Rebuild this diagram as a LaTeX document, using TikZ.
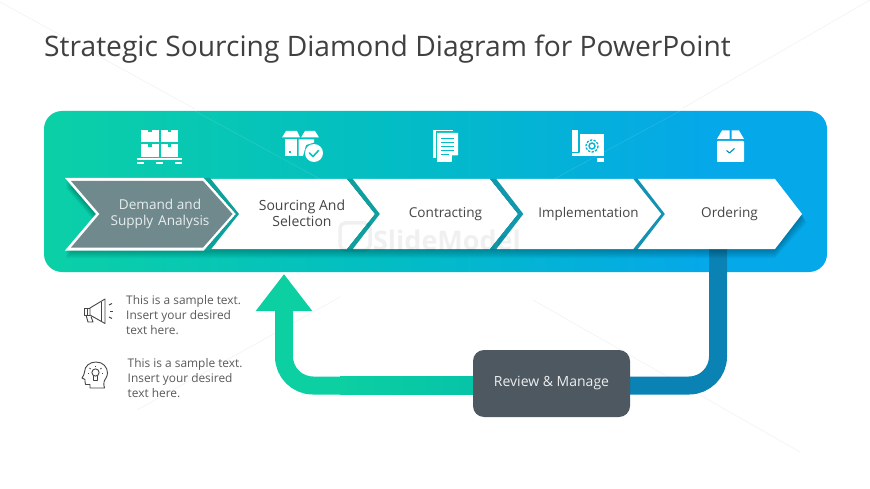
\documentclass[tikz,border=0pt]{standalone}
\usepackage{fontspec}
\setmainfont{Open Sans}
\usetikzlibrary{arrows.meta,calc}
\definecolor{pA}{HTML}{0BD0A6}
\definecolor{pB}{HTML}{03BDC4}
\definecolor{pC}{HTML}{05A8E8}
\definecolor{titlec}{HTML}{404040}
\definecolor{bodyc}{HTML}{5A5A5A}
\definecolor{labelc}{HTML}{454545}
\definecolor{greyc}{HTML}{6F898D}
\definecolor{slatec}{HTML}{4D5860}
\definecolor{retgreen}{HTML}{0CCFA2}
\definecolor{retgreenb}{HTML}{06C3A8}
\definecolor{retblue}{HTML}{0A82B4}
\definecolor{iconline}{HTML}{454545}
\definecolor{stripeA}{HTML}{10A09A}
\definecolor{stripeB}{HTML}{109E9E}
\definecolor{stripeC}{HTML}{1298AC}
\definecolor{stripeD}{HTML}{1392B4}
\pgfdeclarelayer{bg}
\pgfsetlayers{bg,main}
\pgfdeclarehorizontalshading{panelgrad}{100bp}{color(0bp)=(pA);color(25bp)=(pA);color(47bp)=(pB);color(67bp)=(pC);color(100bp)=(pC)}
\tikzset{
  x=1pt,y=-1pt,
  chevtext/.style={align=center,font=\fontsize{13.6}{16}\selectfont,text=labelc,inner sep=0pt},
  sampletext/.style={align=left,anchor=north west,font=\fontsize{11.9}{15}\selectfont,text=bodyc,inner sep=0pt},
  flow/.style={line width=18pt,rounded corners=29pt},
  outline/.style={draw=iconline,line width=.9pt,fill=none,line join=round},
  faint/.style={draw=black,opacity=.05,line width=.6pt},
}
\newcommand{\chevbody}[2]{%
  \fill[white] (#1,179)--++(137,0)--++(28,35)--++(-28,35)--++(-137,0)--++(27,-35)--cycle;
  \fill[#2] (#1+137,179)--++(28,35)--++(-28,35)--++(6,0)--++(27.5,-35)--++(-27.5,-35)--cycle;}
\begin{document}
\begin{tikzpicture}
\useasboundingbox (0,0) rectangle (870,489);
% review box and connector end points
\node[fill=slatec,rounded corners=11pt,minimum width=157pt,minimum height=67pt,inner sep=0pt,text=white!90!slatec,font=\fontsize{14}{16}\selectfont] (review) at (551.5,383.5) {Review \& Manage};
\coordinate (feed) at (718,249);
\coordinate (backtip) at (284,274);
\begin{pgfonlayer}{bg}
\fill[white] (0,0) rectangle (870,489);
\draw[faint] (533,300)--(800,452);
\draw[faint] (340,297)--(137,410);
\draw[faint] (0,2)--(195,109);
\draw[faint] (870,0)--(683,108);
\shade[shading=panelgrad,rounded corners=18pt] (44,111) rectangle (827,272);
\draw[draw=white,opacity=.12,line width=.6pt] (195,111)--(340,190);
\draw[draw=white,opacity=.12,line width=.6pt] (530,192)--(680,111);
\draw[flow,retblue] ($(review.east)+(-2,2)$) -| (feed);
\draw[flow,retgreen,-{Triangle[length=37pt,width=54pt]}] ($(review.west)+(2,2)$) -| (backtip);
\shade[left color=retgreen,right color=retgreenb] (340,376.5) rectangle (475,394.5);
\end{pgfonlayer}
\node[inner sep=0pt,anchor=base west,text=titlec,font=\fontsize{28.2}{32}\selectfont] (title) at (44,56.5) {Strategic Sourcing Diamond Diagram for PowerPoint};
% chevron shadow
\foreach \d in {1,2,...,9}{
  \fill[black,opacity=.03] (66,179+\d)--(775,179+\d)--(802+\d*.5,214+\d)--(775,249+\d)--(66,249+\d)--(96,214+\d)--cycle;
}
% chevrons
\chevbody{210}{stripeB}
\chevbody{353}{stripeC}
\chevbody{496.5}{stripeD}
\fill[white] (638,179)--(775,179)--(802,214)--(775,249)--(638,249)--(665,214)--cycle;
% first chevron
\fill[white] (65,178)--(204,178)--(236,214)--(204,250.5)--(65,250.5)--(96,214)--cycle;
\fill[greyc] (71,181)--(203,181)--(232.5,214)--(203,247.5)--(71,247.5)--(99.5,214)--cycle;
\fill[stripeA] (204,178)--(236,214)--(204,250.5)--(210,250.5)--(239,214)--(210,178)--cycle;
% watermark
\node[opacity=.06,text=black,inner sep=0pt,font=\bfseries\fontsize{27}{27}\selectfont] (mark) at (447,240) {SlideModel};
\draw[opacity=.06,draw=black,line width=3.5pt,rounded corners=5pt] (340,223) rectangle (370,250);
% chevron labels
\node[chevtext,text=white!85!greyc] (c1) at (160,214) {Demand and\\Supply\hspace{.1em} Analysis};
\node[chevtext,font=\fontsize{14}{16}\selectfont] (c2) at (302,213.5) {Sourcing And\\Selection};
\node[chevtext] (c3) at (445.5,214) {Contracting};
\node[chevtext,font=\fontsize{13.4}{16}\selectfont] (c4) at (588.5,214) {Implementation};
\node[chevtext] (c5) at (729.5,214) {Ordering};
% sample text
\node[sampletext] (s1) at (126,295.5) {This is a sample text.\\Insert your desired\\text here.};
\node[sampletext] (s2) at (127.5,358) {This is a sample text.\\Insert your desired\\text here.};
% icon 1: pallet
\foreach \px/\py in {141/130,160.5/130,141/144.5,160.5/144.5}{
  \fill[white] (\px,\py) rectangle ++(17.5,12.5);
  \fill[pA!90!pB] (\px+7,\py) rectangle ++(3.5,2.5);
}
\fill[white] (137,158) rectangle (182,160);
\fill[white] (137,162) rectangle (144,164);
\fill[white] (156,162) rectangle (163,164);
\fill[white] (175,162) rectangle (182,164);
% icon 2: open box with check
\fill[white] (286,131)--(297,131)--(300,137.5)--(282,137.5)--cycle;
\fill[white] (305,131)--(315,131)--(319,137.5)--(301,137.5)--cycle;
\fill[white] (285,139.5) rectangle (296.5,156);
\fill[white] (298.5,139.5)--(314,139.5)--(314,142.5)--(306,145)--(303,156)--(298.5,156)--cycle;
\fill[pA!50!pB] (289,151) rectangle (291,153);
\fill[white] (314,153) circle (9);
\draw[pA!45!pB,line width=1.6pt,line cap=round,line join=round] (309.5,153)--(313,156.5)--(318.5,150.5);
% icon 3: documents
\fill[white] (433,130) rectangle (453,158);
\fill[pA!25!pB] (435.5,131.5) rectangle (455,160);
\fill[white] (437,133) -- (458,133) -- (458,155) -- (451,162) -- (437,162) -- cycle;
\fill[pB] (458,155.5) -- (452,155.5) -- (452,162) -- cycle;
\foreach \ly in {138,142,146,150}{\fill[pB] (441,\ly) rectangle (454,\ly+1.4);}
\fill[pB] (441,154) rectangle (449,155.4);
% icon 4: blueprint with gear
\fill[white] (578,134) rectangle (604,155);
\fill[white] (572,130) rectangle (577.5,152);
\fill[pB!60!pC] (577.5,131) rectangle (579.5,152);
\fill[white] (572,153) rectangle (604,156);
\fill[pB!60!pC] (579.5,151.5)--(579.5,153)--(573,153)--cycle;
\fill[white] (597,158) rectangle (604,162);
\draw[pB!60!pC,line width=1.4pt] (592,146) circle (3);
\draw[pB!60!pC,line width=1.3pt,dash pattern=on 2.4pt off 1.3pt] (592,146) circle (6);
% icon 5: closed box
\fill[white] (722,130.5)--(729.5,130.5)--(729.5,139)--(717,139)--cycle;
\fill[white] (731.5,130.5)--(739,130.5)--(744,139)--(731.5,139)--cycle;
\fill[white,rounded corners=.8pt] (717,141) rectangle (744,162);
\draw[pB!30!pC!80!black,line width=1.1pt,line join=round] (726.5,150.5)--(729.5,153)--(734.5,148.5);
% megaphone
\draw[outline] (90,308)--(105,299)--(105,323.5)--(90,315)--cycle;
\draw[outline] (90,308)--(84,308)--(84,315)--(90,315);
\draw[outline] (87,308)--(87,315);
\draw[outline] (86,315)--(88,322)--(93,322)--(91,316.5);
\draw[outline] (101.5,301.5)--(101.5,321);
\draw[outline] (109,305)--(112,303.5);
\draw[outline] (110,311)--(113,311);
\draw[outline] (109,317)--(112,318.5);
% head with bulb
\draw[outline] (90,388)--(90,384.5)--(85.5,384.5).. controls (84.5,383) and (85.5,381) .. (85,379.5)--(82,378).. controls (83,375.5) and (85,374) .. (84.5,372).. controls (84.5,366) and (90,362) .. (96,362).. controls (103,362) and (107.5,367) .. (107.5,373).. controls (107.5,377) and (104.5,379.5) .. (104,382).. controls (103.5,384) and (104,386) .. (104.5,388)--cycle;
\draw[outline] (95.5,372.5) circle (3.6);
\draw[outline] (93.5,376)--(93.5,380)--(97.5,380)--(97.5,376);
\draw[outline] (95.5,366)--(95.5,367.2);
\draw[outline] (89.5,368)--(90.5,369);
\draw[outline] (101.5,368)--(100.5,369);
\draw[outline] (88,373)--(89.3,373);
\draw[outline] (103,373)--(101.7,373);
\end{tikzpicture}
\end{document}
